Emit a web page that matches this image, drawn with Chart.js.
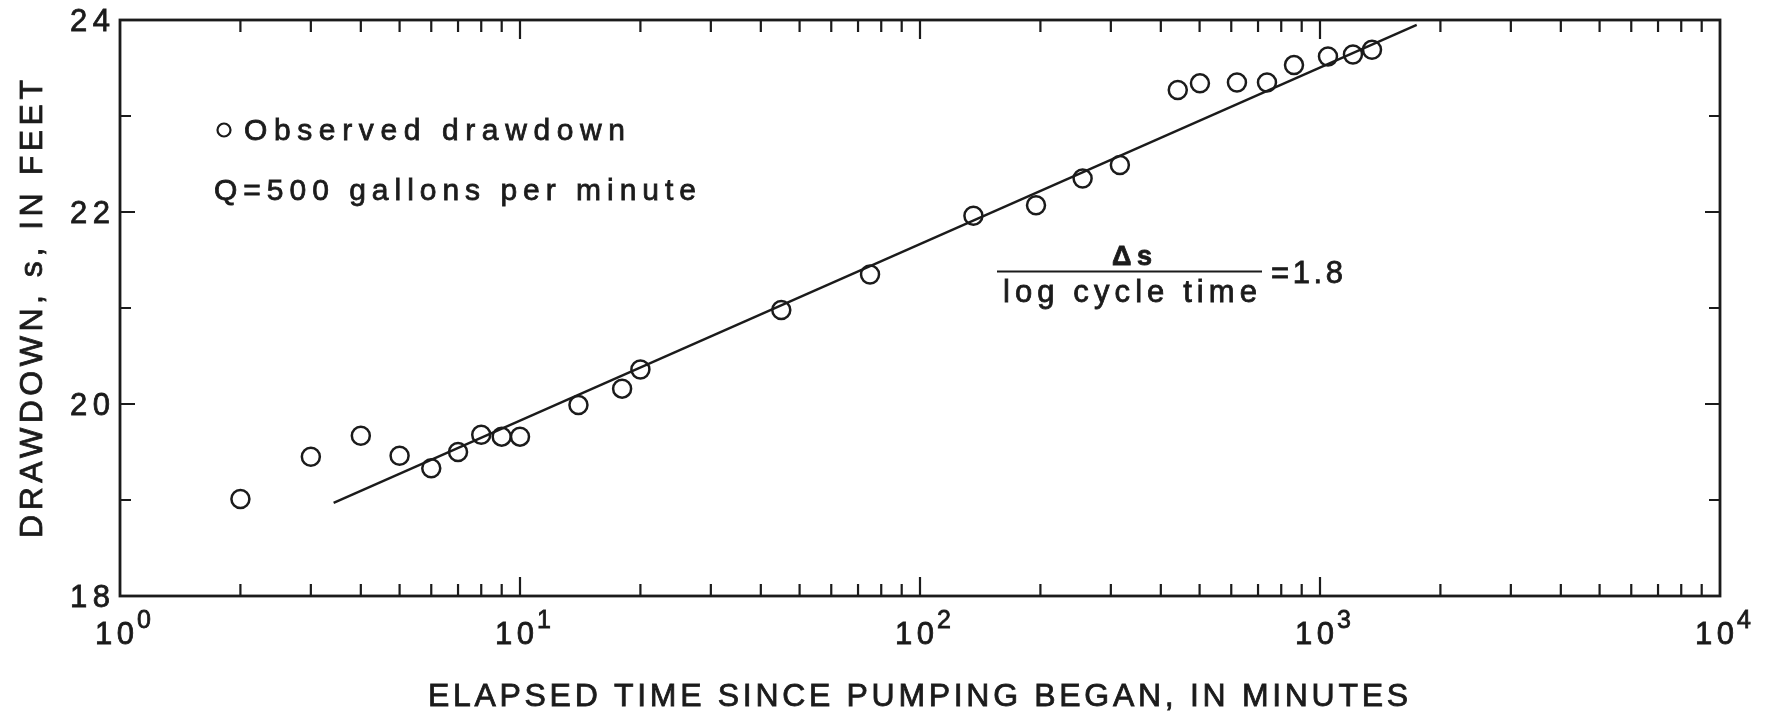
<!DOCTYPE html>
<html>
<head>
<meta charset="utf-8">
<script src="https://cdn.jsdelivr.net/npm/chart.js@4"></script>
<style>
  html, body { margin: 0; padding: 0; background: #fff; }
  #wrap { width: 1772px; height: 713px; }
</style>
</head>
<body>
<div id="wrap"><canvas id="chart" width="1772" height="713"></canvas></div>
<script>
'use strict';

// ********************** DATA **********************
const timeMinutes = [2, 3, 4, 5, 6, 7, 8, 9, 10, 14, 18, 20, 45, 75, 136, 195, 255, 316, 441, 501, 620, 737, 861, 1047, 1209, 1349];
const drawdownFeet = [19.01, 19.45, 19.67, 19.46, 19.33, 19.50, 19.68, 19.66, 19.66, 19.99, 20.16, 20.36, 20.98, 21.35, 21.96, 22.07, 22.35, 22.49, 23.27, 23.34, 23.35, 23.35, 23.53, 23.62, 23.64, 23.69];
const fitTime = [3.42, 1745];
const fitDrawdown = [18.97, 23.95];
const yLabels = [18, 20, 22, 24];
const yTicks = [19, 20, 21, 22, 23];
const decades = [0, 1, 2, 3, 4];

const INK = '#1b1b1b';
const FONT = '"Liberation Sans", Arial, Helvetica, sans-serif';

// ********************** HELPERS **********************
// draw text stretched to a given width with letter spacing, slightly heavier
const spaced = (ctx, text, x, y, width, align) => {
  ctx.letterSpacing = '0px';
  const w = ctx.measureText(text).width;
  const n = [...text].length;
  const ls = n > 1 ? (width - w) / (n - 1) : 0;
  ctx.letterSpacing = ls + 'px';
  ctx.textAlign = 'left';
  let start = x;
  if (align === 'center') start = x - width / 2;
  if (align === 'right') start = x - width;
  ctx.fillText(text, start, y);
  ctx.lineWidth = 0.8;
  ctx.strokeText(text, start, y);
  ctx.letterSpacing = '0px';
};

// ********************** PLUGIN: frame, inward ticks, labels **********************
const framePlugin = {
  id: 'frame',
  beforeDatasetsDraw(chart) {
    const { ctx, chartArea: a, scales } = chart;
    const xs = scales.x;
    const ys = scales.y;
    ctx.save();
    ctx.strokeStyle = INK;
    ctx.lineWidth = 2.8;
    ctx.strokeRect(a.left, a.top, a.right - a.left, a.bottom - a.top);

    ctx.lineWidth = 2.2;
    ctx.beginPath();
    for (let k = 0; k < 4; k++) {
      for (let m = 2; m <= 10; m++) {
        const v = m * Math.pow(10, k);
        const px = xs.getPixelForValue(v);
        const len = m === 10 ? 19 : 12;
        if (v >= 10000) continue;
        ctx.moveTo(px, a.bottom);
        ctx.lineTo(px, a.bottom - len);
        ctx.moveTo(px, a.top);
        ctx.lineTo(px, a.top + len);
      }
    }
    for (const v of yTicks) {
      const py = ys.getPixelForValue(v);
      const len = v % 2 === 0 ? 15 : 11;
      ctx.moveTo(a.left, py);
      ctx.lineTo(a.left + len, py);
      ctx.moveTo(a.right, py);
      ctx.lineTo(a.right - len, py);
    }
    ctx.stroke();
    ctx.restore();
  },
  afterDraw(chart) {
    const { ctx, scales } = chart;
    const xs = scales.x;
    const ys = scales.y;
    ctx.save();
    ctx.fillStyle = INK;
    ctx.strokeStyle = INK;

    // y tick labels
    ctx.font = '31px ' + FONT;
    ctx.textBaseline = 'middle';
    for (const v of yLabels) {
      spaced(ctx, String(v), 110, ys.getPixelForValue(v) + 2, 40, 'right');
    }

    // x tick labels 10^k
    ctx.textBaseline = 'alphabetic';
    for (const k of decades) {
      const px = xs.getPixelForValue(Math.pow(10, k));
      ctx.font = '31px ' + FONT;
      spaced(ctx, '10', px + 14, 644, 39, 'right');
      ctx.font = '25px ' + FONT;
      spaced(ctx, String(k), px + 17, 628, 14, 'left');
    }

    // axis titles
    ctx.font = '32px ' + FONT;
    spaced(ctx, 'ELAPSED TIME SINCE PUMPING BEGAN, IN MINUTES', 918, 706, 980, 'center');
    ctx.save();
    ctx.translate(42, 309);
    ctx.rotate(-Math.PI / 2);
    spaced(ctx, 'DRAWDOWN, s, IN FEET', 0, 0, 458, 'center');
    ctx.restore();

    // legend block
    ctx.lineWidth = 2.2;
    ctx.beginPath();
    ctx.arc(224, 130, 6.5, 0, Math.PI * 2);
    ctx.stroke();
    ctx.font = '30px ' + FONT;
    spaced(ctx, 'Observed drawdown', 244, 140, 381, 'left');
    spaced(ctx, 'Q=500 gallons per minute', 214, 200, 482, 'left');

    // slope annotation
    ctx.font = 'bold 27px ' + FONT;
    spaced(ctx, '\u0394s', 1132, 265, 40, 'center');
    ctx.lineWidth = 2.2;
    ctx.beginPath();
    ctx.moveTo(997, 271.5);
    ctx.lineTo(1262, 271.5);
    ctx.stroke();
    ctx.font = '31px ' + FONT;
    spaced(ctx, 'log cycle time', 1003, 302, 254, 'left');
    spaced(ctx, '=1.8', 1271, 283, 72, 'left');

    ctx.restore();
  }
};

// ********************** CHART **********************
const observed = timeMinutes.map((t, i) => ({ x: t, y: drawdownFeet[i] }));
const fitLine = fitTime.map((t, i) => ({ x: t, y: fitDrawdown[i] }));

new Chart(document.getElementById('chart'), {
  type: 'scatter',
  data: {
    datasets: [
      {
        label: 'Observed drawdown',
        data: observed,
        pointStyle: 'circle',
        pointRadius: 9,
        pointBorderWidth: 2.5,
        borderColor: INK,
        backgroundColor: 'rgba(0,0,0,0)',
        order: 1
      },
      {
        label: 'Fitted line',
        data: fitLine,
        showLine: true,
        borderColor: INK,
        borderWidth: 2.4,
        pointRadius: 0,
        order: 2
      }
    ]
  },
  options: {
    responsive: false,
    animation: false,
    events: [],
    layout: { padding: { left: 120, right: 52, top: 20, bottom: 117 } },
    plugins: {
      legend: { display: false },
      tooltip: { enabled: false }
    },
    scales: {
      x: { type: 'logarithmic', min: 1, max: 10000, display: false },
      y: { type: 'linear', min: 18, max: 24, display: false }
    }
  },
  plugins: [framePlugin]
});
</script>
</body>
</html>
